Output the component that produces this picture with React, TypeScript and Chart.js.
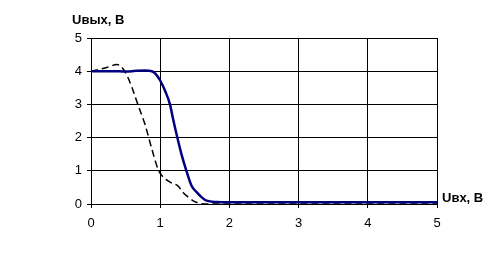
import React, { useEffect, useRef } from "react";
import { Chart, registerables } from "chart.js";

Chart.register(...registerables);

const solidX = [0, 0.3, 0.5, 0.65, 0.78, 0.88, 0.93, 1.0, 1.07, 1.14, 1.19, 1.25, 1.31, 1.38, 1.455, 1.53, 1.6, 1.67, 1.82, 2, 3, 4, 5];
const solidY = [4.0, 4.0, 3.99, 4.01, 4.02, 4.0, 3.93, 3.72, 3.41, 3.01, 2.52, 1.98, 1.48, 0.99, 0.54, 0.35, 0.2, 0.1, 0.06, 0.05, 0.05, 0.05, 0.05];
const dashX = [0, 0.15, 0.27, 0.37, 0.44, 0.52, 0.59, 0.68, 0.78, 0.88, 0.97, 1.03, 1.14, 1.26, 1.33, 1.41, 1.5, 1.57, 1.7, 5];
const dashY = [4.0, 4.07, 4.14, 4.2, 4.13, 3.87, 3.52, 2.98, 2.4, 1.65, 1.04, 0.84, 0.66, 0.54, 0.35, 0.2, 0.07, 0.02, 0, 0];
const yTitle = "Uвых, B";
const xTitle = "Uвх, B";

const titlesPlugin = {
  id: "axisTitles",
  afterDraw(chart: any) {
    const ctx = chart.ctx;
    const area = chart.chartArea;
    ctx.save();
    ctx.fillStyle = "#000";
    ctx.font = "bold 13px 'Liberation Sans', Arial, sans-serif";
    ctx.textBaseline = "alphabetic";
    ctx.textAlign = "left";
    ctx.fillText(yTitle, area.left - 19, 24);
    ctx.fillText(xTitle, area.right + 5, area.bottom - 2);
    ctx.restore();
  },
};

export default function App() {
  const ref = useRef<HTMLCanvasElement | null>(null);
  useEffect(() => {
    if (!ref.current) return;
    const chart = new Chart(ref.current, {
      type: "line",
      data: {
        datasets: [
          {
            data: solidX.map((x, i) => ({ x, y: solidY[i] })),
            borderColor: "#000080",
            borderWidth: 2.5,
            pointRadius: 0,
            cubicInterpolationMode: "monotone",
            fill: false,
          },
          {
            data: dashX.map((x, i) => ({ x, y: dashY[i] })),
            borderColor: "#000",
            borderWidth: 1.5,
            borderDash: [7, 4],
            pointRadius: 0,
            cubicInterpolationMode: "monotone",
            fill: false,
          },
        ],
      },
      options: {
        animation: false,
        responsive: false,
        maintainAspectRatio: false,
        layout: { padding: { left: 0, right: 54, top: 38, bottom: 0 } },
        plugins: { legend: { display: false }, tooltip: { enabled: false } },
        scales: {
          x: {
            type: "linear",
            min: 0,
            max: 5,
            ticks: { stepSize: 1, color: "#000", padding: 8, font: { family: "'Liberation Sans', Arial, sans-serif", size: 13 } },
            grid: { color: "#000", lineWidth: 1, tickLength: 4 },
            border: { color: "#000", width: 1 },
            afterFit: (s: any) => { s.height = 69; },
          },
          y: {
            min: 0,
            max: 5,
            ticks: { stepSize: 1, color: "#000", padding: 5, font: { family: "'Liberation Sans', Arial, sans-serif", size: 13 } },
            grid: { color: "#000", lineWidth: 1, tickLength: 4 },
            border: { color: "#000", width: 1 },
            afterFit: (s: any) => { s.width = 91; },
          },
        },
      },
      plugins: [titlesPlugin],
    });
    return () => chart.destroy();
  }, []);
  return (
    <div style={{ position: "fixed", left: 0, top: 0, width: 491, height: 273, background: "#fff" }}>
      <canvas ref={ref} width={491} height={273} style={{ width: 491, height: 273, display: "block" }} />
    </div>
  );
}
